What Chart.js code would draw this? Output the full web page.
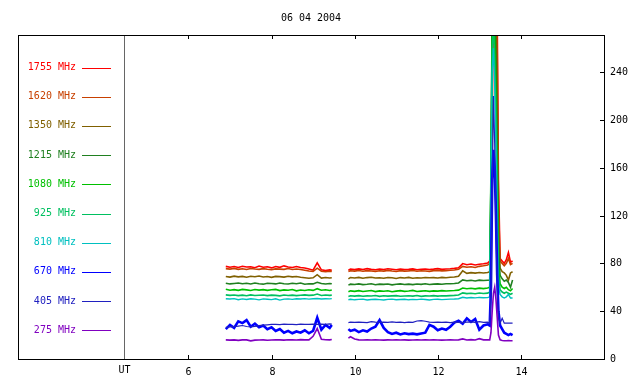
<!DOCTYPE html>
<html>
<head>
<meta charset="utf-8">
<script src="https://cdn.jsdelivr.net/npm/chart.js@4.4.0/dist/chart.umd.min.js"></script>
<style>
  html, body { margin: 0; padding: 0; background: #fff; }
  #wrap { width: 640px; height: 384px; }
</style>
</head>
<body>
<div id="wrap"><canvas id="c"></canvas></div>
<script>
// hours UT; 9.65 is the data gap
var hours = [6.9,7.0,7.1,7.2,7.3,7.4,7.5,7.6,7.7,7.8,7.9,8.0,8.1,8.2,8.3,8.4,8.5,8.6,8.7,8.8,8.9,9.0,9.1,9.2,9.3,9.4,9.45,
  9.65,
  9.85,9.9,10.0,10.1,10.2,10.3,10.4,10.5,10.6,10.7,10.8,10.9,11.0,11.1,11.2,11.3,11.4,11.5,11.6,11.7,11.8,11.9,
  12.0,12.1,12.2,12.3,12.4,12.5,12.6,12.7,12.8,12.9,13.0,13.1,13.2,
  13.25,13.28,13.31,13.34,13.37,13.4,13.43,13.46,13.5,13.55,13.6,13.65,13.7,13.75,13.8];

var freqLabels = ['1755 MHz','1620 MHz','1350 MHz','1215 MHz','1080 MHz','925 MHz','810 MHz','670 MHz','405 MHz','275 MHz'];
var freqColors = ['#ff0000','#c84000','#806000','#208020','#00c000','#00c060','#00c0c0','#0000ff','#2020c0','#8000c0'];

var f1755 = [77.5,76.8,77.3,76.5,77.6,76.9,77.2,76.4,77.8,76.8,77.1,76.2,77.4,76.7,77.9,77.0,76.5,77.3,76.6,76.1,75.2,74.3,80.5,74.6,73.9,74.5,74.2,
  null,
  74.3,75.2,74.8,75.4,74.9,75.6,75.0,74.7,75.3,74.9,75.5,75.1,74.6,75.2,74.8,75.0,75.4,74.7,75.1,75.3,74.9,75.2,75.6,75.0,75.3,75.5,75.8,76.3,79.8,78.9,79.4,78.6,79.2,79.6,80.2,
  82,110,200,300,320,310,290,150,84,82,80,83,89,81,82];
var f1620 = [75.6,75.2,75.8,75.0,75.5,74.9,75.7,75.3,75.0,75.6,75.1,74.8,75.4,75.2,75.0,75.7,74.9,75.3,74.8,74.2,73.6,73.3,76.0,73.4,73.0,73.5,73.2,
  null,
  73.2,73.8,73.5,74.0,73.4,73.9,73.6,73.3,73.8,73.5,74.1,73.6,73.2,73.9,73.5,73.7,74.0,73.4,73.8,73.6,73.3,73.9,74.1,73.7,73.9,74.2,74.5,75.0,77.4,76.8,77.2,76.6,77.5,78.0,78.6,
  80,120,250,310,310,300,260,130,82,80,78,80,84,79,80];
var f1350 = [69.0,68.5,69.3,68.7,69.1,68.4,69.2,68.8,69.4,68.6,69.0,68.3,69.1,68.9,68.5,69.2,68.7,69.0,68.4,68.0,67.6,67.9,70.5,67.7,68.2,67.8,68.0,
  null,
  67.0,68.2,67.8,68.3,67.6,68.1,68.4,67.7,68.0,67.5,68.2,67.9,67.4,68.1,67.8,68.3,67.6,68.0,67.7,68.2,67.9,68.1,67.8,68.3,68.0,68.4,68.6,69.2,73.8,71.6,72.2,71.8,72.3,71.9,72.4,
  73,130,280,300,300,290,220,110,76,73,72,70,66,72,73];
var f1215 = [63.4,62.8,63.2,63.6,62.9,63.3,62.7,63.5,63.0,62.6,63.4,63.1,62.8,63.5,63.0,62.7,63.3,62.9,63.6,62.5,63.0,62.8,64.2,63.1,62.7,63.2,62.9,
  null,
  61.8,62.6,62.3,62.8,62.2,62.5,62.9,62.1,62.6,62.4,62.7,62.0,62.5,62.8,62.3,62.6,62.2,62.7,62.4,62.9,62.3,62.6,62.8,62.5,62.9,63.0,63.2,63.6,66.2,65.4,65.8,65.3,66.0,65.6,65.9,
  66,150,300,300,290,250,170,90,70,67,65,66,64,60,66];
var f1080 = [58.3,57.5,58.0,57.4,58.2,57.8,57.3,58.1,57.6,58.0,57.4,57.9,58.2,57.2,57.8,57.5,58.1,57.0,57.7,57.3,57.9,57.4,58.8,57.5,57.9,57.3,57.7,
  null,
  56.2,57.0,56.6,57.2,56.5,56.9,57.3,56.4,57.0,56.7,57.1,56.3,56.8,57.2,56.6,56.9,57.4,56.5,56.8,57.1,56.6,57.0,56.8,57.2,56.9,57.1,57.3,57.6,59.4,58.8,59.2,58.7,59.3,58.9,59.4,
  60,160,280,290,270,220,150,80,63,60,59,60,58,57,59];
var f925 = [53.6,53.2,53.5,53.0,53.4,52.9,53.6,53.1,53.3,53.5,53.0,53.4,53.2,52.8,53.5,53.1,53.4,53.0,53.3,53.6,53.2,53.4,54.3,53.1,53.5,53.2,53.4,
  null,
  52.3,52.9,52.6,53.0,52.5,52.8,52.7,53.1,52.4,52.9,52.6,52.8,53.0,52.5,52.7,52.9,52.6,53.1,52.4,52.8,52.7,53.0,52.6,52.9,52.8,53.0,53.2,53.5,55.3,54.7,55.0,54.6,55.2,54.8,55.1,
  56,150,260,280,250,200,130,70,58,56,55,56,55,54,55];
var f810 = [50.4,50.2,50.5,49.6,50.3,49.8,50.4,50.1,49.5,50.3,50.0,49.7,50.4,49.3,50.1,50.3,49.9,50.4,50.2,50.5,50.1,50.4,50.6,50.2,50.4,50.3,50.5,
  null,
  49.6,50.0,49.5,49.9,50.1,49.4,49.8,50.0,49.7,49.3,49.9,50.1,49.6,49.8,50.0,49.5,49.9,49.7,50.1,49.8,49.4,49.9,50.0,49.7,49.9,50.1,50.2,50.4,51.6,51.0,51.4,51.1,51.5,51.2,51.3,
  52,140,240,260,230,180,110,62,54,52,51,52,54,51,51];
var f670 = [25.0,28.5,26.0,31.5,30.0,32.5,27.0,29.5,26.5,28.0,25.0,26.5,23.5,25.0,22.0,23.5,21.5,23.0,22.0,24.0,21.5,23.5,34.5,24.5,28.5,26.0,28.5,
  null,
  25.0,23.5,24.5,22.5,24.0,23.0,25.5,27.0,32.5,26.0,22.5,21.0,22.0,20.5,21.5,20.8,21.2,20.6,21.4,22.0,28.5,27.0,24.0,25.5,24.5,27.0,30.5,32.0,29.5,34.0,31.0,33.5,24.5,28.0,29.0,
  28,60,150,175,160,120,70,40,28,25,22,21,20,21,20];
var f405 = [26.5,26.8,27.0,27.5,28.0,27.2,26.8,27.3,27.9,28.3,28.6,28.9,29.0,28.8,29.1,28.9,29.0,28.8,29.1,29.0,28.9,29.2,29.0,29.1,28.9,29.3,29.2,
  null,
  30.5,30.8,30.6,30.9,30.7,30.5,31.3,30.8,30.6,30.9,30.7,31.0,30.6,30.8,30.5,30.9,30.7,31.8,32.1,31.6,30.9,30.7,30.8,30.6,30.9,30.5,30.8,30.6,30.4,30.9,31.0,30.7,31.2,30.6,30.8,
  30,50,140,220,180,110,60,35,30,34,30,30,30,30,30];
var f275 = [16.0,15.8,16.0,15.6,16.0,16.0,15.2,15.8,15.9,16.0,15.7,15.9,16.1,16.0,15.8,16.1,16.0,15.9,16.2,16.0,16.0,19.0,25.5,16.5,16.1,16.0,16.3,
  null,
  17.5,18.6,16.8,16.0,15.9,16.0,15.9,16.0,15.9,15.8,16.0,15.9,16.0,15.9,16.0,15.8,15.9,16.0,15.9,16.0,15.9,16.0,15.9,15.8,15.9,16.0,15.9,16.0,16.8,15.9,16.2,15.9,17.0,16.0,16.1,
  16,22,40,55,60,50,35,20,16,15.5,15.3,15.3,15.5,15.3,15.3];

var series = [f1755,f1620,f1350,f1215,f1080,f925,f810,f670,f405,f275];
var lineWidths = [1.6,1.6,1.6,1.6,1.6,1.6,1.4,2.6,1.2,1.6];
var xTicks = [6,8,10,12,14];
var yTicks = [0,40,80,120,160,200,240];
var utHour = 4.45;
var title = '06 04 2004';

var FONT = '10px "DejaVu Sans Mono", monospace';

var datasets = series.map(function(vals, i) {
  return {
    label: freqLabels[i],
    data: vals.map(function(v, k) { return {x: hours[k], y: v}; }),
    borderColor: freqColors[i],
    borderWidth: lineWidths[i],
    pointRadius: 0,
    tension: 0,
    spanGaps: false,
    fill: false,
    order: series.length - i
  };
});

// frame, ticks, labels, legend drawn like the gnuplot output
var framePlugin = {
  id: 'frame',
  afterDatasetsDraw: function(chart) {
    var ctx = chart.ctx, a = chart.chartArea;
    var xs = chart.scales.x, ys = chart.scales.y;
    ctx.save();
    ctx.lineWidth = 1;

    // UT line
    var ux = Math.round(xs.getPixelForValue(utHour)) + 0.5;
    ctx.strokeStyle = '#666666';
    ctx.beginPath(); ctx.moveTo(ux, a.top); ctx.lineTo(ux, a.bottom); ctx.stroke();

    ctx.strokeStyle = '#000';
    ctx.strokeRect(Math.round(a.left) + 0.5, Math.round(a.top) + 0.5,
                   Math.round(a.right - a.left), Math.round(a.bottom - a.top));

    ctx.font = FONT;
    ctx.fillStyle = '#000';
    ctx.textBaseline = 'middle';
    ctx.textAlign = 'center';
    xTicks.forEach(function(h) {
      var px = Math.round(xs.getPixelForValue(h)) + 0.5;
      ctx.beginPath();
      ctx.moveTo(px, a.bottom); ctx.lineTo(px, a.bottom - 4);
      ctx.moveTo(px, a.top); ctx.lineTo(px, a.top + 4);
      ctx.stroke();
      ctx.fillText(String(h), px, a.bottom + 13);
    });
    ctx.fillText('UT', ux, a.bottom + 11);

    ctx.textAlign = 'left';
    yTicks.forEach(function(v) {
      var py = Math.round(ys.getPixelForValue(v)) + 0.5;
      ctx.beginPath();
      ctx.moveTo(a.right, py); ctx.lineTo(a.right - 4, py);
      ctx.stroke();
      ctx.fillText(String(v), a.right + 6, py);
    });

    ctx.textAlign = 'center';
    ctx.fillText(title, (a.left + a.right) / 2, 18);

    // legend
    ctx.textAlign = 'right';
    freqLabels.forEach(function(lab, i) {
      var py = 67.5 + i * 29.2;
      ctx.fillStyle = freqColors[i];
      ctx.fillText(lab, 76, py);
      ctx.strokeStyle = freqColors[i];
      ctx.beginPath();
      ctx.moveTo(82, Math.round(py) + 0.5); ctx.lineTo(111, Math.round(py) + 0.5);
      ctx.stroke();
    });
    ctx.restore();
  }
};

new Chart(document.getElementById('c'), {
  type: 'line',
  data: { datasets: datasets },
  options: {
    responsive: true,
    maintainAspectRatio: false,
    animation: false,
    devicePixelRatio: 1,
    layout: { padding: { left: 18, top: 35, right: 36, bottom: 25 } },
    plugins: { legend: { display: false }, tooltip: { enabled: false }, title: { display: false } },
    scales: {
      x: { type: 'linear', min: 1.9, max: 16, display: false },
      y: { type: 'linear', min: 0, max: 271, display: false }
    }
  },
  plugins: [framePlugin]
});
</script>
</body>
</html>
